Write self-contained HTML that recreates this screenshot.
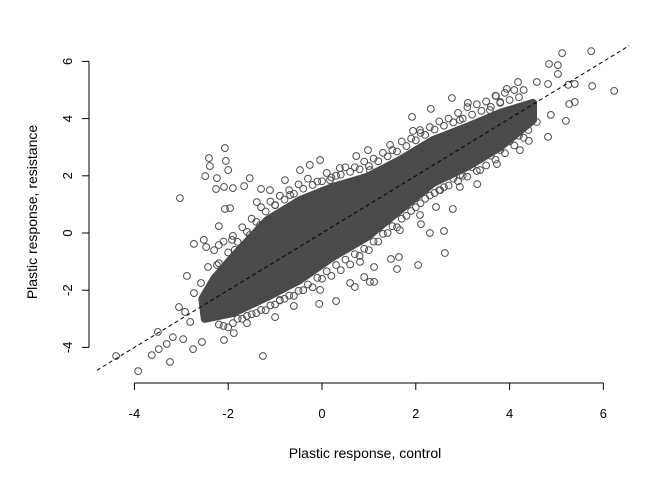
<!DOCTYPE html>
<html><head><meta charset="utf-8"><style>
body{margin:0;background:#fff}
svg{display:block;font-family:"Liberation Sans",sans-serif}
</style></head><body>
<svg id="chart" width="672" height="480">
<g id="hull"></g>
<g id="pts"></g>
<line id="ref" stroke="#000" stroke-dasharray="4,3" stroke-width="1"/>
<g id="axes"></g>
<text x="365" y="458" text-anchor="middle" font-size="14">Plastic response, control</text>
<text transform="translate(37,212) rotate(-90)" text-anchor="middle" font-size="14">Plastic response, resistance</text>
</svg>
<script>
const xTicks=[-4,-2,0,2,4,6];
const yTicks=[-4,-2,0,2,4,6];
const ptX=[5.74,5.12,4.84,5.03,6.23,5.76,5.39,5.25,5.03,4.58,4.82,5.27,5.39,5.20,4.82,4.41,4.58,4.88,4.18,3.94,3.71,2.77,3.11,2.32,1.92,1.94,0.98,0.73,3.31,3.73,2.94,2.79,2.60,2.62,2.30,2.05,1.60,1.64,1.47,1.11,1.02,0.70,2.11,2.43,
-2.07,-2.41,-2.39,-2.05,-2.49,-2.24,-2.00,-2.26,-2.09,-1.90,-1.66,-1.54,-3.03,-1.30,-2.07,-1.96,-1.39,-2.20,-2.73,-2.52,-2.47,-2.20,-1.92,-2.88,-2.73,-2.58,-2.43,-2.24,-3.05,-2.92,-2.81,-3.50,-3.31,-3.18,-2.96,-2.75,-2.56,-3.63,-3.48,-3.24,-4.39,-3.92,-1.26,-2.09,-1.88,-1.60,-1.00,-0.60,-0.06,0.30,0.60,0.90,1.11,
0.38,-0.47,-0.26,-0.79,-1.11,-0.04,1.45,2.09,2.94,3.58,3.90,4.22,3.37,2.52,3.80,3.16,
-1.54,-1.96,-0.90,-0.04,0.81,1.66,2.09,2.94,-1.86,-1.54,-1.32,-1.00,-0.68,0.17,1.02,
-2.3,-2.1,-1.9,-1.7,-1.5,-1.3,-1.1,-0.9,-0.7,-0.5,-0.3,-0.1,0.1,0.3,0.5,0.7,0.9,1.1,1.3,1.5,1.7,1.9,2.1,2.3,2.5,2.7,2.9,3.1,3.3,3.5,3.7,3.9,4.1,4.3,
-2.2,-2.0,-1.8,-1.6,-1.4,-1.2,-1.0,-0.8,-0.6,-0.4,-0.2,0.0,0.2,0.4,0.6,0.8,1.0,1.2,1.4,1.6,1.8,2.0,2.2,2.4,2.6,2.8,3.0,3.2,3.4,3.6,3.8,4.0,4.2,4.4,
-2.2,-2.0,-1.8,-1.6,-1.4,-1.2,-1.0,-0.8,-0.6,-0.4,-0.2,0.0,0.2,0.4,0.6,0.8,1.0,1.2,1.4,1.6,1.8,2.0,2.2,2.4,2.6,2.8,3.0,3.2,3.4,3.6,3.8,4.0,4.2,
-2.1,-1.9,-1.7,-1.5,-1.3,-1.1,-0.9,-0.7,-0.5,-0.3,-0.1,0.1,0.3,0.5,0.7,0.9,1.1,1.3,1.5,1.7,1.9,2.1,2.3,2.5,2.7,2.9,3.1,3.3,3.5,3.7,3.9,4.1,4.3];
const ptY=[6.36,6.29,5.91,5.87,4.97,5.14,5.21,5.18,5.56,5.28,5.21,4.51,4.58,3.92,3.36,3.22,3.88,4.13,5.28,5.04,4.79,4.72,4.55,4.34,4.06,3.57,2.90,2.69,1.71,2.41,1.61,0.84,0.07,-0.70,0.00,-1.12,-1.26,-0.84,-0.91,-1.19,-1.71,-1.89,0.31,0.91,
2.97,2.62,2.34,2.52,1.99,1.92,2.20,1.54,1.61,1.57,1.64,1.92,1.22,1.54,0.84,0.87,1.08,0.24,-0.38,-0.24,-0.49,-0.42,-0.24,-1.50,-2.10,-1.75,-1.19,-1.12,-2.59,-2.76,-3.11,-3.46,-3.88,-3.64,-3.71,-4.06,-3.81,-4.27,-4.06,-4.51,-4.30,-4.83,-4.30,-3.74,-3.50,-3.15,-2.94,-2.55,-2.48,-2.38,-1.75,-1.54,-1.71,
2.27,2.20,2.38,1.85,1.50,2.55,3.08,3.60,3.95,4.30,3.60,2.90,2.20,1.50,4.58,3.25,
-2.52,-2.34,-2.34,-1.99,-1.01,0.10,0.63,2.03,-0.59,-0.07,0.28,0.98,1.33,1.85,2.20,
-0.6,-0.3,-0.1,0.2,0.5,0.9,1.1,1.3,1.5,1.7,1.9,1.8,2.1,2.0,2.3,2.3,2.5,2.6,2.8,2.9,3.2,3.3,3.5,3.7,3.9,4.0,4.2,4.4,4.5,4.6,4.8,4.9,5.0,5.0,
-3.2,-3.3,-3.0,-2.9,-2.8,-2.7,-2.5,-2.3,-2.2,-2.0,-1.9,-1.6,-1.5,-1.3,-1.1,-0.8,-0.6,-0.3,0.0,0.2,0.6,0.9,1.2,1.4,1.6,1.9,2.0,2.3,2.6,2.7,2.9,3.2,3.4,3.6,
-1.06,-0.68,-0.31,0.04,0.39,0.75,0.97,1.17,1.37,1.55,1.68,1.81,1.94,2.04,2.14,2.23,2.34,2.51,2.68,2.85,3.04,3.24,3.43,3.62,3.75,3.87,4.0,4.14,4.27,4.41,4.55,4.65,4.75,
-3.25,-3.15,-3.0,-2.84,-2.69,-2.53,-2.36,-2.19,-2.02,-1.80,-1.57,-1.34,-1.12,-0.93,-0.74,-0.55,-0.30,-0.03,0.24,0.50,0.77,1.04,1.31,1.50,1.66,1.81,1.97,2.17,2.36,2.56,2.79,3.06,3.33];
const hullX=[-2.55,-2.3,-1.90,-1.17,-0.47,0.23,0.96,1.66,2.37,3.09,3.80,4.50,4.50,3.80,3.09,2.37,1.66,0.96,0.23,-0.47,-1.17,-1.90,-2.5];
const hullY=[-2.3,-1.6,-0.84,0.45,1.15,1.61,1.96,2.55,3.25,3.71,4.20,4.55,3.95,3.01,2.31,1.75,0.80,-0.14,-0.84,-1.64,-2.24,-2.80,-3.0];
const X=v=>322+v*46.9, Y=v=>233-v*28.6;
const NS='http://www.w3.org/2000/svg';
function mk(t,a,p){const e=document.createElementNS(NS,t);for(const k in a)e.setAttribute(k,a[k]);p.appendChild(e);return e;}
const hp=mk('polygon',{points:hullX.map((x,i)=>X(x)+','+Y(hullY[i])).join(' '),fill:'#4a4a4a',stroke:'#4a4a4a','stroke-width':8,'stroke-linejoin':'round'},document.getElementById('hull'));


const pg=document.getElementById('pts');
ptX.forEach((x,i)=>{const c=mk('circle',{cx:X(x),cy:Y(ptY[i]),r:3.4,fill:'none',stroke:'#4d4d4d','stroke-width':1},pg);

});
const r=document.getElementById('ref');
r.setAttribute('x1',X(-4.8));r.setAttribute('y1',Y(-4.8));r.setAttribute('x2',X(6.55));r.setAttribute('y2',Y(6.55));
const ax=document.getElementById('axes');
mk('line',{x1:X(xTicks[0]),x2:X(xTicks[xTicks.length-1]),y1:383,y2:383,stroke:'#000'},ax);
xTicks.forEach(t=>{mk('line',{x1:X(t),x2:X(t),y1:383,y2:390,stroke:'#000'},ax);
const l=mk('text',{x:X(t),y:418,'text-anchor':'middle','font-size':13},ax);l.textContent=t;

});
mk('line',{x1:89,x2:89,y1:Y(yTicks[0]),y2:Y(yTicks[yTicks.length-1]),stroke:'#000'},ax);
yTicks.forEach(t=>{mk('line',{x1:82,x2:89,y1:Y(t),y2:Y(t),stroke:'#000'},ax);
const l=mk('text',{transform:`translate(72,${Y(t)}) rotate(-90)`,'text-anchor':'middle','font-size':13},ax);l.textContent=t;

});
</script>
</body></html>
